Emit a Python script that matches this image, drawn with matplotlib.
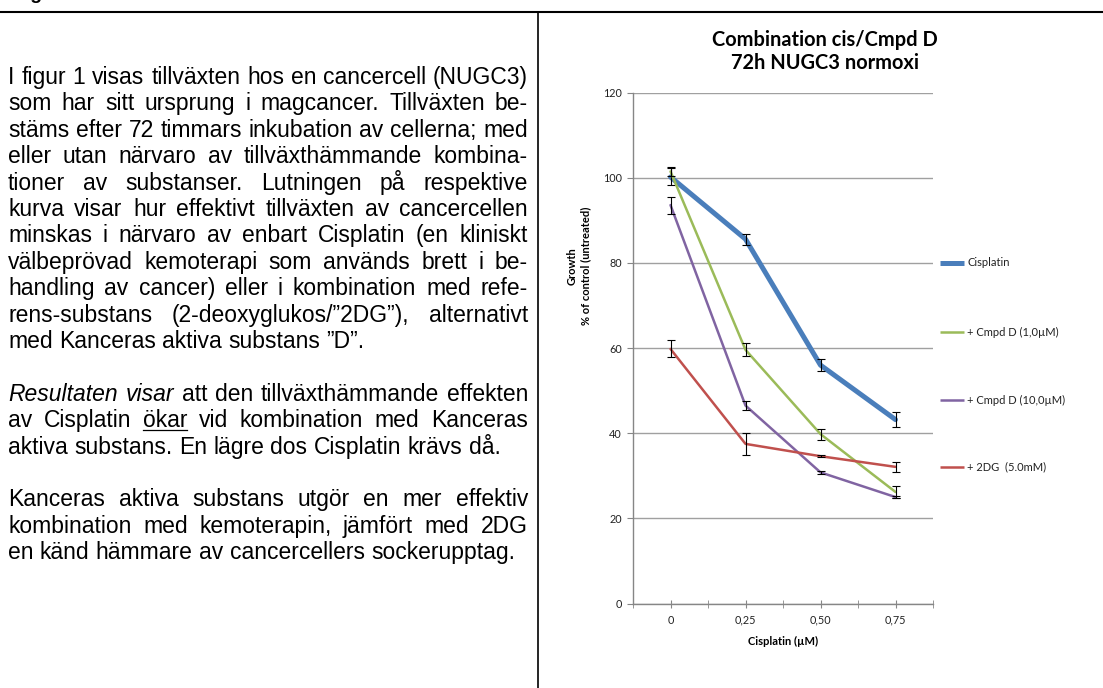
import matplotlib
matplotlib.use("Agg")
import matplotlib.pyplot as plt

# ---- data ----
doses = ["0", "0,25", "0,50", "0,75"]
series_names = ["Cisplatin", "+ Cmpd D (1,0µM)", "+ Cmpd D (10,0µM)", "+ 2DG  (5.0mM)"]
cis = [100.2, 85.6, 56.0, 43.2]
cis_err = [2.0, 1.3, 1.4, 1.8]
cmpd1 = [101.5, 59.6, 39.8, 26.2]
cmpd1_err = [1.0, 1.5, 1.3, 1.4]
cmpd10 = [93.6, 46.5, 30.8, 25.0]
cmpd10_err = [2.0, 1.0, 0.3, 0.3]
dg = [59.8, 37.5, 34.6, 32.1]
dg_err = [2.0, 2.6, 0.3, 1.2]
yticks = [0, 20, 40, 60, 80, 100, 120]

# paragraph text; *word* = italic, _word_ = underlined, None = blank line
lines = [
    ("I figur 1 visas tillväxten hos en cancercell (NUGC3)", False),
    ("som har sitt ursprung i magcancer. Tillväxten be-", False),
    ("stäms efter 72 timmars inkubation av cellerna; med", False),
    ("eller utan närvaro av tillväxthämmande kombina-", False),
    ("tioner av substanser. Lutningen på respektive", False),
    ("kurva visar hur effektivt tillväxten av cancercellen", False),
    ("minskas i närvaro av enbart Cisplatin (en kliniskt", False),
    ("välbeprövad kemoterapi som används brett i be-", False),
    ("handling av cancer) eller i kombination med refe-", False),
    ("rens-substans (2-deoxyglukos/”2DG”), alternativt", False),
    ("med Kanceras aktiva substans ”D”.", True),
    None,
    ("*Resultaten* *visar* att den tillväxthämmande effekten", False),
    ("av Cisplatin _ökar_ vid kombination med Kanceras", False),
    ("aktiva substans. En lägre dos Cisplatin krävs då.", True),
    None,
    ("Kanceras aktiva substans utgör en mer effektiv", False),
    ("kombination med kemoterapin, jämfört med 2DG", False),
    ("en känd hämmare av cancercellers sockerupptag.", True),
]

W, H = 1103, 688
fig = plt.figure(figsize=(W / 100, H / 100), dpi=100)
renderer = fig.canvas.get_renderer()


def fx(x):
    return x / W


def fy(y):
    return 1 - y / H


def text_width(s, **kw):
    t = fig.text(0, 0, s, **kw)
    w = t.get_window_extent(renderer).width
    t.remove()
    return w


# frame lines
fig.add_artist(plt.Line2D([0, 1], [fy(12), fy(12)], color="black", lw=1.5))
fig.add_artist(plt.Line2D([fx(538), fx(538)], [fy(12), 0], color="black", lw=1.2))
# heading of the page above, only its descender shows
fig.text(fx(14), fy(-1), "Fig", fontsize=14, fontweight="bold",
         family="Liberation Sans", va="baseline")

# ---- justified paragraph ----
body = dict(family="Liberation Sans")
fs = 13.0 * 505 / text_width("en känd hämmare av cancercellers sockerupptag.", fontsize=13.0, **body)
space = text_width("a a", fontsize=fs, **body) - text_width("aa", fontsize=fs, **body)
left, right = 8, 528
base0, step = 84, 26.4

for i, item in enumerate(lines):
    if item is None:
        continue
    s, last = item
    words = []
    for w in s.split(" "):
        style = "normal"
        under = False
        if w.startswith("*") and w.endswith("*"):
            w, style = w[1:-1], "italic"
        elif w.startswith("_") and w.endswith("_"):
            w, under = w[1:-1], True
        words.append((w, style, under, text_width(w, fontsize=fs, style=style, **body)))
    total = sum(x[3] for x in words)
    gap = space if last else (right - left - total) / (len(words) - 1)
    x = left
    y = base0 + i * step
    for w, style, under, wd in words:
        fig.text(fx(x), fy(y), w, fontsize=fs, style=style, va="baseline", **body)
        if under:
            fig.add_artist(plt.Line2D([fx(x), fx(x + wd)], [fy(y + 2.5), fy(y + 2.5)],
                                      color="black", lw=0.9))
        x += wd + gap

# ---- chart ----
cfont = "Lato"
ax = fig.add_axes([fx(633), fy(603.5), (933 - 633) / W, (603.5 - 92.7) / H])
xs = range(len(doses))
styles = [
    (cis, cis_err, "#4a7ebb", 3.6),
    (cmpd1, cmpd1_err, "#9bbb59", 1.8),
    (cmpd10, cmpd10_err, "#8064a2", 1.8),
    (dg, dg_err, "#c0504d", 1.8),
]
for k, (vals, err, col, lw) in enumerate(styles):
    ax.plot(xs, vals, color=col, lw=lw, solid_capstyle="round", zorder=3 + k)
    ax.errorbar(xs, vals, yerr=err, fmt="none", ecolor="black", elinewidth=0.8,
                capsize=2.8, capthick=0.8, zorder=3 + k)

ax.set_xlim(-0.5, 3.5)
ax.set_ylim(0, 120)
ax.set_xticks(list(xs))
ax.set_xticklabels(doses)
ax.set_xticks([-0.5, 0.5, 1.5, 2.5, 3.5], minor=True)
ax.set_yticks(yticks)
ax.grid(axis="y", color="#a0a0a0", lw=1.0)
ax.set_axisbelow(True)
for sp in ["top", "right"]:
    ax.spines[sp].set_visible(False)
for sp in ["left", "bottom"]:
    ax.spines[sp].set_color("#868686")
    ax.spines[sp].set_linewidth(1.0)
ax.tick_params(axis="x", which="both", direction="inout", length=6, color="#868686",
               labelsize=7.8, pad=5)
ax.tick_params(axis="y", direction="out", length=4, color="#868686", labelsize=7.8, pad=4)
for lab in ax.get_xticklabels() + ax.get_yticklabels():
    lab.set_family(cfont)
    lab.set_color("#222222")

tsize = 11 * 224 / text_width("Combination cis/Cmpd D", fontsize=11, fontweight="bold", family=cfont)
fig.text(fx(825), fy(40), "Combination cis/Cmpd D", fontsize=tsize, fontweight="bold",
         family=cfont, ha="center", va="center")
fig.text(fx(825), fy(63), "72h NUGC3 normoxi", fontsize=tsize, fontweight="bold",
         family=cfont, ha="center", va="center")
fig.text(fx(783), fy(641), "Cisplatin (µM)", fontsize=8, fontweight="bold",
         family=cfont, ha="center", va="center")
fig.text(fx(579), fy(266), "Growth\n% of control (untreated)", fontsize=8,
         fontweight="bold", family=cfont, ha="center", va="center", rotation=90,
         multialignment="center")

# legend drawn by hand at the right of the plot area
leg_y = [263, 332, 400, 467]
for (vals, err, col, lw), name, y in zip(styles, series_names, leg_y):
    fig.add_artist(plt.Line2D([fx(940), fx(964)], [fy(y), fy(y)], color=col, lw=lw,
                              solid_capstyle="butt"))
    fig.text(fx(967), fy(y), name, fontsize=8, family=cfont, va="center", color="#222222")

fig.savefig("out.png", dpi=100)
